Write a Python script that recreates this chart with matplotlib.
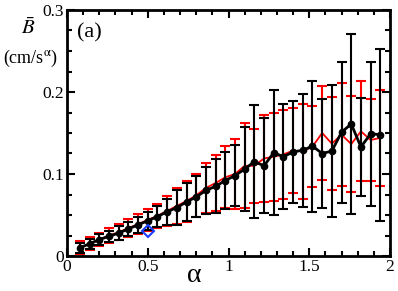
import numpy as np
import matplotlib.pyplot as plt
from matplotlib.ticker import MultipleLocator

plt.rcParams['font.family'] = 'Liberation Serif'
plt.rcParams['mathtext.fontset'] = 'stix'

alpha = [0.08, 0.14, 0.20, 0.26, 0.32, 0.38, 0.44, 0.50, 0.56, 0.62, 0.68,
         0.74, 0.80, 0.86, 0.92, 0.98, 1.04, 1.10, 1.16, 1.22, 1.28, 1.34,
         1.40, 1.46, 1.52, 1.58, 1.64, 1.70, 1.76, 1.82, 1.88, 1.94]

black_mean = [0.010, 0.015, 0.020, 0.024, 0.028, 0.033, 0.038, 0.043, 0.048,
              0.054, 0.059, 0.066, 0.072, 0.080, 0.085, 0.092, 0.098, 0.106,
              0.115, 0.110, 0.126, 0.121, 0.127, 0.129, 0.134, 0.125, 0.128,
              0.151, 0.161, 0.133, 0.149, 0.148]
black_err = [0.006, 0.006, 0.007, 0.007, 0.008, 0.009, 0.010, 0.011, 0.013,
             0.016, 0.021, 0.023, 0.025, 0.029, 0.033, 0.035, 0.037, 0.051,
             0.069, 0.058, 0.076, 0.064, 0.062, 0.069, 0.080, 0.067, 0.081,
             0.086, 0.110, 0.060, 0.088, 0.105]

red_mean = [0.010, 0.015, 0.020, 0.025, 0.029, 0.034, 0.039, 0.044, 0.049,
            0.055, 0.061, 0.067, 0.074, 0.083, 0.089, 0.096, 0.100, 0.110,
            0.110, 0.119, 0.121, 0.124, 0.1285, 0.1275, 0.1335, 0.150, 0.137,
            0.148, 0.1365, 0.152, 0.1415, 0.144]
red_err = [0.008, 0.008, 0.008, 0.009, 0.010, 0.011, 0.012, 0.013, 0.015,
           0.018, 0.022, 0.025, 0.026, 0.030, 0.034, 0.038, 0.043, 0.052,
           0.045, 0.053, 0.054, 0.054, 0.0515, 0.0575, 0.0495, 0.057, 0.057,
           0.063, 0.0585, 0.061, 0.0505, 0.059]

ref_alpha = [0.5]
ref_b = [0.031]

fig = plt.figure(figsize=(3.98, 2.91), dpi=100)
ax = fig.add_axes([67 / 398, 35 / 291, 323 / 398, 246 / 291])

# red series underneath
ax.errorbar(alpha, red_mean, yerr=red_err, color='red', lw=1.3,
            elinewidth=1.5, capsize=3.5, capthick=1.5, zorder=2)
# black series on top
ax.errorbar(alpha, black_mean, yerr=black_err, color='black', lw=2,
            marker='o', ms=4.5, elinewidth=1.5, capsize=3.5, capthick=1.5,
            zorder=3)
ax.plot(ref_alpha, ref_b, marker='D', ms=6, mfc='none', mec='#1a3cff',
        mew=1.5, ls='none', zorder=4)

ax.set_xlim(0, 2)
ax.set_ylim(0, 0.3)
ax.xaxis.set_minor_locator(MultipleLocator(0.1))
ax.yaxis.set_minor_locator(MultipleLocator(0.025))
ax.set_xticks([0, 0.5, 1, 1.5, 2], ['0', '0.5', '1', '1.5', '2'])
ax.set_yticks([0, 0.1, 0.2, 0.3], ['0', '0.1', '0.2', '0.3'])

ax.tick_params(which='both', direction='in', top=True, right=True,
               labelsize=12.5, width=1.5, pad=2)
ax.tick_params(which='major', length=6)
ax.tick_params(which='minor', length=3.5)
for s in ax.spines.values():
    s.set_linewidth(2)

fig.text(194 / 398, 1 - 276 / 291, 'α', fontsize=20,
         ha='center', va='center')
fig.text(28 / 398, 1 - 29 / 291, r'$\bar{B}$', fontsize=15,
         ha='center', va='center')
fig.text(31 / 398, 1 - 58 / 291, r'(cm/s$^{\mathrm{\alpha}}$)', fontsize=13,
         ha='center', va='center')
ax.text(0.031, 0.906, '(a)', transform=ax.transAxes, fontsize=16,
        ha='left', va='center')

fig.savefig('out.png', dpi=100)
